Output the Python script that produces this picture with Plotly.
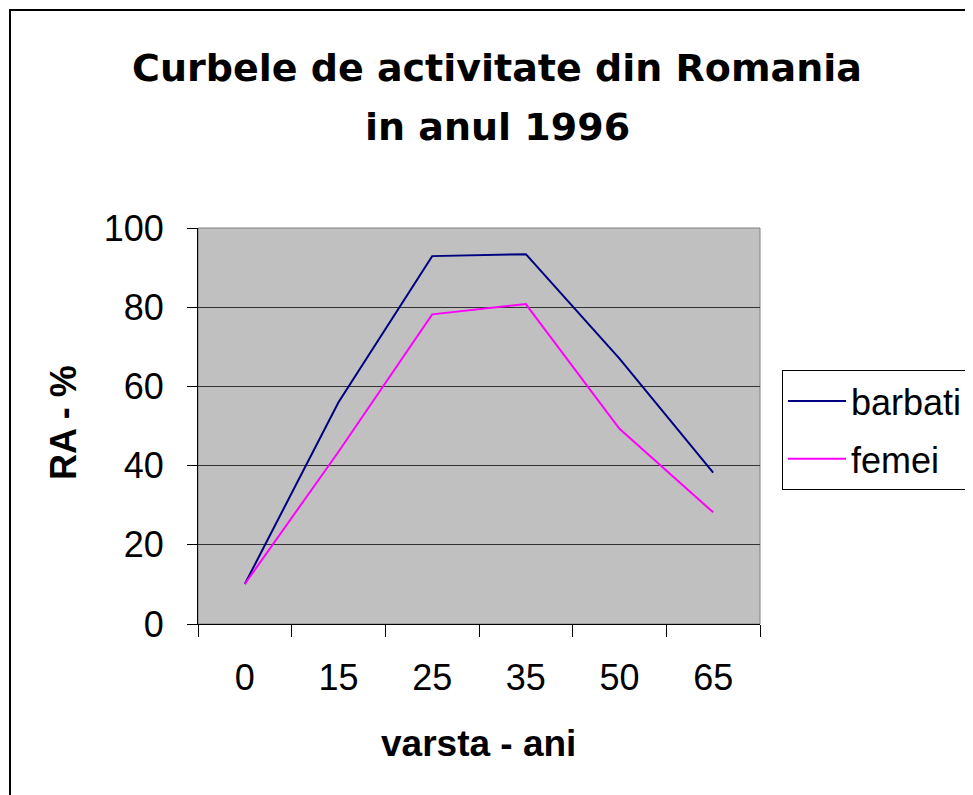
import plotly.graph_objects as go

categories = ["0", "15", "25", "35", "50", "65"]
barbati = [10.1, 56.0, 92.9, 93.4, 67.0, 38.2]
femei = [10.1, 43.5, 78.2, 80.8, 49.3, 28.2]
y_ticks = [0, 20, 40, 60, 80, 100]

FONT = "Liberation Sans, Arial, sans-serif"
TFONT = "DejaVu Sans, Liberation Sans, Arial, sans-serif"

# page offset from body margin
OFF = 8
W, H = 973 - OFF, 795 - OFF
L, R, T, B = 198 - OFF, 760 - OFF, 228 - OFF, 624 - OFF


def px(x):
    return (x - OFF - L) / (R - L)


def py(y):
    return (B - (y - OFF)) / (B - T)


fig = go.Figure()
fig.add_trace(go.Scatter(x=categories, y=barbati, mode="lines", name="barbati",
                         line=dict(color="#000080", width=2), legendgroup="a"))
fig.add_trace(go.Scatter(x=categories, y=femei, mode="lines", name="femei",
                         line=dict(color="#FF00FF", width=2), legendgroup="b"))

fig.update_layout(
    width=W, height=H,
    margin=dict(l=L, r=W - R, t=T, b=H - B, autoexpand=False),
    paper_bgcolor="white",
    plot_bgcolor="#C0C0C0",
    font=dict(family=FONT, size=36, color="black"),
    showlegend=True,
    legend=dict(x=px(782), y=py(370), xanchor="left", yanchor="top",
                bordercolor="black", borderwidth=1, bgcolor="white",
                font=dict(size=36), tracegroupgap=8, itemwidth=58),
    xaxis=dict(type="category", showline=True, linecolor="black", linewidth=1,
               ticks="outside", tickson="boundaries", ticklen=12, tickcolor="black",
               showgrid=False, ticklabelstandoff=22, range=[-0.5, 5.5],
               tickfont=dict(size=36)),
    yaxis=dict(range=[0, 100], tickvals=y_ticks, showline=True, linecolor="black",
               linewidth=1, ticks="outside", ticklen=10, tickcolor="black",
               showgrid=True, gridcolor="#333333", gridwidth=1, zeroline=False,
               ticklabelstandoff=16, tickfont=dict(size=36)),
    shapes=[
        dict(type="rect", xref="paper", yref="paper", x0=0, x1=1, y0=0, y1=1,
             line=dict(color="#808080", width=1), fillcolor="rgba(0,0,0,0)", layer="below"),
        dict(type="rect", xref="paper", yref="paper",
             x0=px(10), x1=px(990), y0=py(10), y1=py(820),
             line=dict(color="black", width=2), fillcolor="rgba(0,0,0,0)"),
    ],
    annotations=[
        dict(text="<b>Curbele de activitate din Romania</b>",
             xref="paper", yref="paper", x=px(497), y=py(68), xanchor="center",
             yanchor="middle", showarrow=False, font=dict(size=38, family=TFONT)),
        dict(text="<b>in anul 1996</b>",
             xref="paper", yref="paper", x=px(498), y=py(127), xanchor="center",
             yanchor="middle", showarrow=False, font=dict(size=38, family=TFONT)),
        dict(text="<b>varsta - ani</b>", xref="paper", yref="paper",
             x=px(478), y=py(743), xanchor="center", yanchor="middle",
             showarrow=False, font=dict(size=37)),
        dict(text="<b>RA - %</b>", xref="paper", yref="paper",
             x=px(63), y=py(423), xanchor="center", yanchor="middle",
             showarrow=False, textangle=-90, font=dict(size=36)),
    ],
)

fig.write_html("out.html")
